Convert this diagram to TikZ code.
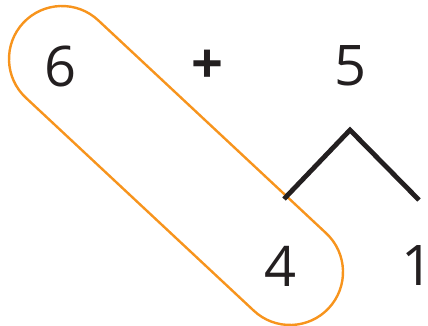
\documentclass[tikz,border=0pt]{standalone}
\usepackage{fontspec}
\setmainfont{Open Sans}
\usetikzlibrary{shapes.misc}
\definecolor{ink}{HTML}{231F20}
\definecolor{ring}{HTML}{F7941D}
\begin{document}
\begin{tikzpicture}[x=1pt,y=-1pt,
  num/.style={inner sep=0pt, text=ink, font=\fontsize{56}{56}\selectfont},
  branch/.style={draw=ink, line width=4.8pt},
  loop/.style={draw=ring, line width=2.4pt, rounded rectangle, inner sep=0pt,
    minimum width=418pt, minimum height=106pt}]
\useasboundingbox (0,0) rectangle (428,326);
\node[loop, rotate=-43.05] (ring) at (176,165.5) {};
\node[num] (six) at (61,66) {6};
\node[num, font=\fontsize{56}{56}\selectfont\bfseries] (plus) at (207,67) {+};
\node[num] (five) at (351,66) {5};
\node[num] (four) at (281,266) {4};
\node[num] (one) at (418,266) {1};
\coordinate (apex) at (350,130);
\coordinate (lft) at (284,199);
\coordinate (rgt) at (419,200);
\draw[branch] (lft) -- (apex) -- (rgt);
\end{tikzpicture}
\end{document}
